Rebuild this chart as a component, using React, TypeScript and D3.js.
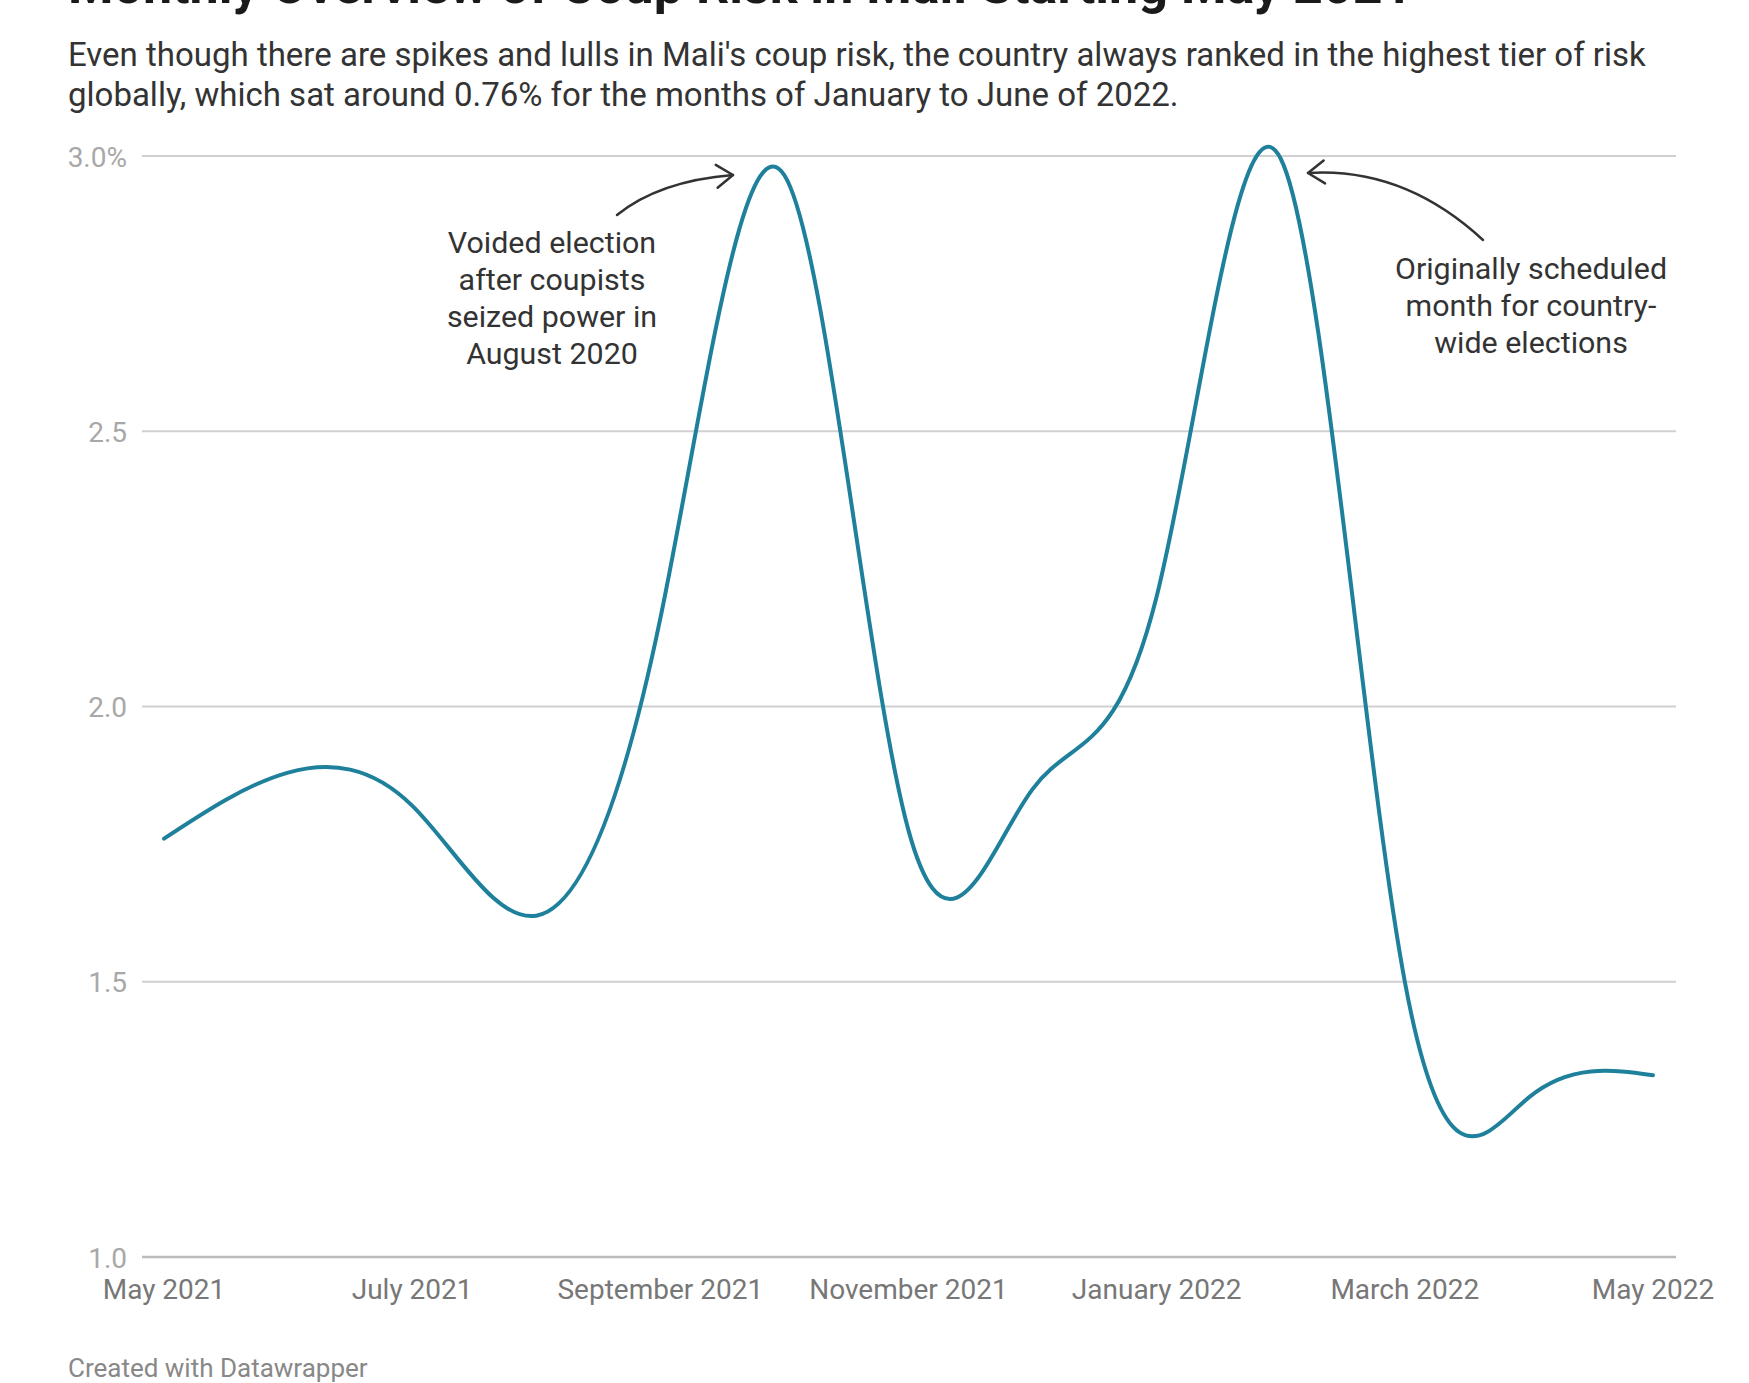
import React from "react";
import * as d3 from "d3";

const months = [
  "May 2021", "June 2021", "July 2021", "August 2021", "September 2021",
  "October 2021", "November 2021", "December 2021", "January 2022",
  "February 2022", "March 2022", "April 2022", "May 2022",
];
const coupRisk = [1.76, 1.88, 1.82, 1.62, 2.16, 2.965, 1.775, 1.85, 2.2, 2.995, 1.5, 1.29, 1.33];
const xTickLabels = ["May 2021", "July 2021", "September 2021", "November 2021", "January 2022", "March 2022", "May 2022"];
const yTicks = [1.0, 1.5, 2.0, 2.5, 3.0];

const title = "Monthly Overview of Coup Risk in Mali Starting May 2021";
const subtitleLines = [
  "Even though there are spikes and lulls in Mali's coup risk, the country always ranked in the highest tier of risk",
  "globally, which sat around 0.76% for the months of January to June of 2022.",
];
const noteLeft = ["Voided election", "after coupists", "seized power in", "August 2020"];
const noteRight = ["Originally scheduled", "month for country-", "wide elections"];
const footer = "Created with Datawrapper";

const W = 1749;
const H = 1383;
const FONT = "Roboto, 'Noto Sans', sans-serif";

export default function App() {
  const x = d3.scaleLinear().domain([0, months.length - 1]).range([164, 1653]);
  const y = d3.scaleLinear().domain([1, 3]).range([1257, 156]);
  const line = d3
    .line<number>()
    .x((_, i) => x(i))
    .y((d) => y(d))
    .curve(d3.curveNatural);

  const fmtY = (v: number) => (v === 3 ? d3.format(".1f")(v) + "%" : d3.format(".1f")(v));

  const arrowHead = (tx: number, ty: number, fx: number, fy: number) => {
    const ang = Math.atan2(ty - fy, tx - fx);
    const L = 20;
    const a = (35 * Math.PI) / 180;
    const p1 = [tx - L * Math.cos(ang - a), ty - L * Math.sin(ang - a)];
    const p2 = [tx - L * Math.cos(ang + a), ty - L * Math.sin(ang + a)];
    return `M${p1[0]},${p1[1]}L${tx},${ty}L${p2[0]},${p2[1]}`;
  };

  return (
    <svg
      width={W}
      height={H}
      style={{ position: "absolute", left: 0, top: 0, background: "#fff" }}
      fontFamily={FONT}
    >
      <rect width={W} height={H} fill="#fff" />
      <text x={68} y={3} fontSize={52} fontWeight={700} fill="#1a1a1a">
        {title}
      </text>
      {subtitleLines.map((t, i) => (
        <text key={i} x={68} y={66 + i * 40} fontSize={33} fill="#333">
          {t}
        </text>
      ))}

      {yTicks.map((v) => (
        <g key={v}>
          <line x1={142} x2={1676} y1={y(v)} y2={y(v)} stroke={v === 1 ? "#bbb" : "#d0d0d0"} strokeWidth={v === 1 ? 2.5 : 2} />
          <text x={127} y={y(v) + 10.5} fontSize={28} fill="#a8a8a8" textAnchor="end">
            {fmtY(v)}
          </text>
        </g>
      ))}

      {xTickLabels.map((t) => {
        const i = months.indexOf(t);
        return (
          <text key={t} x={x(i)} y={1299} fontSize={28} fill="#777" textAnchor="middle">
            {t}
          </text>
        );
      })}

      <path d={line(coupRisk) || ""} fill="none" stroke="#1f809c" strokeWidth={4} strokeLinecap="round" />

      <g fill="#333" fontSize={30.4} textAnchor="middle">
        {noteLeft.map((t, i) => (
          <text key={i} x={552} y={253 + i * 37}>
            {t}
          </text>
        ))}
        {noteRight.map((t, i) => (
          <text key={i} x={1531} y={279 + i * 37}>
            {t}
          </text>
        ))}
      </g>
      <g fill="none" stroke="#333" strokeWidth={2.5} strokeLinecap="round" strokeLinejoin="round">
        <path d="M617,215 Q659,181 733,175" />
        <path d={arrowHead(733, 175, 659, 181)} />
        <path d="M1483,240 Q1404,167 1308,173" />
        <path d={arrowHead(1308, 173, 1404, 167)} />
      </g>

      <text x={68} y={1377} fontSize={26} fill="#888">
        {footer}
      </text>
    </svg>
  );
}
